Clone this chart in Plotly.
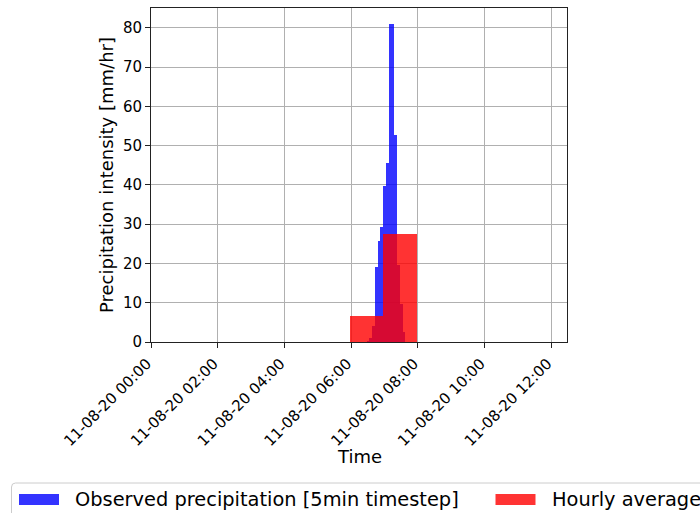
import plotly.graph_objects as go

# 5-minute observed precipitation intensity (bar centred on each timestamp)
obs_times = [
    "2020-08-11 06:30", "2020-08-11 06:35", "2020-08-11 06:40", "2020-08-11 06:45",
    "2020-08-11 06:50", "2020-08-11 06:55", "2020-08-11 07:00", "2020-08-11 07:05",
    "2020-08-11 07:10", "2020-08-11 07:15", "2020-08-11 07:20", "2020-08-11 07:25",
    "2020-08-11 07:30", "2020-08-11 07:35",
]
obs_mm_hr = [0.3, 0.9, 4.0, 19.0, 25.7, 29.4, 39.6, 45.5, 80.9, 80.9, 52.7, 19.5, 9.7, 2.5]

# Hourly averages (one bar per hour window)
hour_starts = ["2020-08-11 06:00", "2020-08-11 07:00"]
hourly_mm_hr = [6.6, 27.5]

x_range = ["2020-08-11 00:00", "2020-08-11 12:28"]
y_range = [0, 85.05]

legend_labels = ["Observed precipitation [5min timestep]", "Hourly average"]
blue = "rgba(0,0,255,0.8)"
red = "rgba(255,0,0,0.8)"

W, H = 700, 513
L, R, T, B = 151, 567, 8, 342
FONT = "DejaVu Sans"


def px_x(px):
    return (px - L) / (R - L)


def px_y(py):
    return (B - py) / (B - T)


fig = go.Figure()
fig.add_trace(go.Bar(
    x=obs_times, y=obs_mm_hr, width=5 * 60 * 1000,
    marker=dict(color=blue, line=dict(width=0)),
    name=legend_labels[0], showlegend=False,
))
fig.add_trace(go.Bar(
    x=hour_starts, y=hourly_mm_hr, width=60 * 60 * 1000, offset=-150 * 1000,
    marker=dict(color=red, line=dict(width=0)),
    name=legend_labels[1], showlegend=False,
))

axis_common = dict(
    showgrid=True, gridcolor="#b0b0b0", gridwidth=1,
    showline=True, linecolor="#222222", linewidth=1, mirror=True,
    ticks="outside", ticklen=5, tickwidth=1, tickcolor="#222222",
    zeroline=False,
    tickfont=dict(family=FONT, size=15, color="#000000"),
)

fig.update_layout(
    width=W, height=H, autosize=False,
    margin=dict(l=L, r=W - R, t=T, b=H - B, pad=0),
    paper_bgcolor="white", plot_bgcolor="white",
    barmode="overlay", bargap=0,
    showlegend=False,
    xaxis=dict(
        type="date", range=x_range,
        tick0="2020-08-11 00:00", dtick=2 * 3600 * 1000,
        tickformat="%d-%m-%y %H:%M", tickangle=-45,
        ticklabelstandoff=1, ticklabelshift=-4,
        **axis_common,
    ),
    yaxis=dict(range=y_range, dtick=10, **axis_common),
)

# Axis titles
fig.add_annotation(
    text="Time", xref="paper", yref="paper",
    x=px_x(359.5), y=px_y(457), xanchor="center", yanchor="middle",
    showarrow=False, font=dict(family=FONT, size=18, color="#000000"),
)
fig.add_annotation(
    text="Precipitation intensity [mm/hr]", xref="paper", yref="paper",
    x=px_x(106), y=px_y(175), xanchor="center", yanchor="middle", textangle=-90,
    showarrow=False, font=dict(family=FONT, size=18, color="#000000"),
)

# Legend box below the axes
x0, y0, x1, y1, r = 11.5, 483, 730, 545, 4
path = (
    f"M {px_x(x0)},{px_y(y1)} L {px_x(x0)},{px_y(y0 + r)} "
    f"Q {px_x(x0)},{px_y(y0)} {px_x(x0 + r)},{px_y(y0)} "
    f"L {px_x(x1)},{px_y(y0)} L {px_x(x1)},{px_y(y1)} Z"
)
fig.add_shape(type="path", path=path, xref="paper", yref="paper",
              line=dict(color="#cccccc", width=1), fillcolor="white", layer="above")

patches = [(19, 59, blue), (495.5, 535.5, red)]
text_x = [73, 550]
for (a, b, c), tx, lab in zip(patches, text_x, legend_labels):
    fig.add_shape(type="rect", xref="paper", yref="paper",
                  x0=px_x(a), x1=px_x(b), y0=px_y(505), y1=px_y(494),
                  line=dict(width=0), fillcolor=c, layer="above")
    fig.add_annotation(
        text=lab, xref="paper", yref="paper",
        x=px_x(tx), y=px_y(499.5), xanchor="left", yanchor="middle",
        showarrow=False, font=dict(family=FONT, size=19.4, color="#000000"),
    )

fig.write_html("out.html")
